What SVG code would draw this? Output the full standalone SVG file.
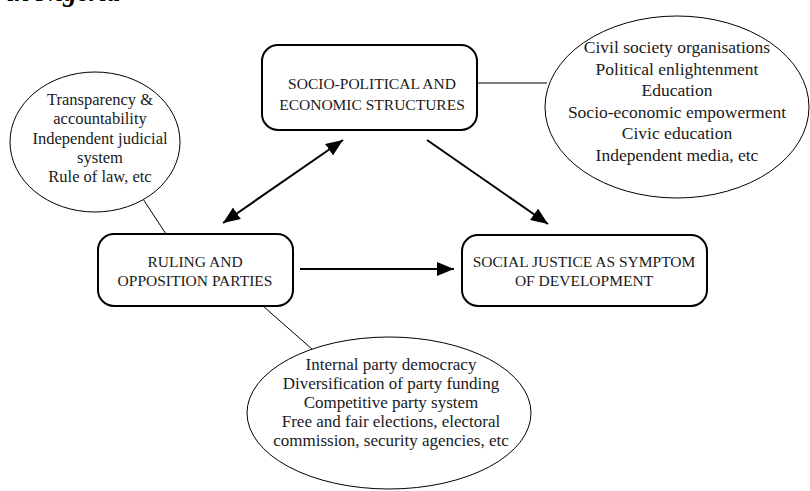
<svg xmlns="http://www.w3.org/2000/svg" width="810" height="491" viewBox="0 0 810 491">
<style>
  .box { fill: #fff; stroke: #000; stroke-width: 2; }
  .ell { fill: #fff; stroke: #000; stroke-width: 1; }
  .t { font-family: "Liberation Serif", "DejaVu Serif", serif; fill: #1a1a1a; text-anchor: middle; }
  .cap { font-size: 15.5px; }
  .labr { font-size: 17.5px; }
  .labl { font-size: 16.5px; }
  .labb { font-size: 17px; }
  .conn { stroke: #000; stroke-width: 2; fill: none; }
  .thin { stroke: #000; stroke-width: 1; fill: none; }
</style>
<defs>
  <marker id="ah" markerUnits="userSpaceOnUse" markerWidth="18" markerHeight="14" refX="17" refY="7" orient="auto-start-reverse">
    <path d="M0,0 L17,7 L0,14 Z" fill="#000"/>
  </marker>
</defs>
<rect width="810" height="491" fill="#fff"/>
<text x="7" y="1" font-family="Liberation Serif, serif" font-size="27" font-weight="bold" font-style="italic" fill="#000">in Nigeria</text>

<g id="connectors">
  <line class="thin" x1="143" y1="199" x2="166" y2="234"/>
  <line class="thin" x1="263" y1="306" x2="313" y2="350"/>
  <line class="thin" x1="477" y1="83" x2="547" y2="83"/>
  <line class="conn" x1="223" y1="223" x2="343" y2="140" marker-start="url(#ah)" marker-end="url(#ah)"/>
  <line class="conn" x1="427" y1="140" x2="548" y2="224" marker-end="url(#ah)"/>
  <line class="conn" x1="300" y1="269" x2="454" y2="269" marker-end="url(#ah)"/>
</g>

<g id="ellipse-left">
  <ellipse class="ell" cx="95" cy="142" rx="85" ry="70"/>
  <text class="t labl" x="100" y="105">Transparency &amp;</text>
  <text class="t labl" x="100" y="124">accountability</text>
  <text class="t labl" x="100" y="144">Independent judicial</text>
  <text class="t labl" x="100" y="163">system</text>
  <text class="t labl" x="100" y="182">Rule of law, etc</text>
</g>

<g id="box-top">
  <rect class="box" x="262" y="45" width="215" height="85" rx="16"/>
  <text class="t cap" x="372" y="89">SOCIO-POLITICAL AND</text>
  <text class="t cap" x="372" y="110">ECONOMIC STRUCTURES</text>
</g>

<g id="ellipse-right">
  <ellipse class="ell" cx="677" cy="107" rx="132" ry="91"/>
  <text class="t labr" x="677" y="53">Civil society organisations</text>
  <text class="t labr" x="677" y="75">Political enlightenment</text>
  <text class="t labr" x="677" y="96">Education</text>
  <text class="t labr" x="677" y="118">Socio-economic empowerment</text>
  <text class="t labr" x="677" y="139">Civic education</text>
  <text class="t labr" x="677" y="161">Independent media, etc</text>
</g>

<g id="box-left">
  <rect class="box" x="98" y="234" width="195" height="72" rx="16"/>
  <text class="t cap" x="195" y="267">RULING AND</text>
  <text class="t cap" x="195" y="286">OPPOSITION PARTIES</text>
</g>

<g id="box-right">
  <rect class="box" x="462" y="235" width="245" height="71" rx="16"/>
  <text class="t cap" x="584" y="267">SOCIAL JUSTICE AS SYMPTOM</text>
  <text class="t cap" x="584" y="286">OF DEVELOPMENT</text>
</g>

<g id="ellipse-bottom">
  <ellipse class="ell" cx="389" cy="413" rx="142" ry="76"/>
  <text class="t labb" x="391" y="370">Internal party democracy</text>
  <text class="t labb" x="391" y="389">Diversification of party funding</text>
  <text class="t labb" x="391" y="408">Competitive party system</text>
  <text class="t labb" x="391" y="427">Free and fair elections, electoral</text>
  <text class="t labb" x="391" y="446">commission, security agencies, etc</text>
</g>
</svg>
